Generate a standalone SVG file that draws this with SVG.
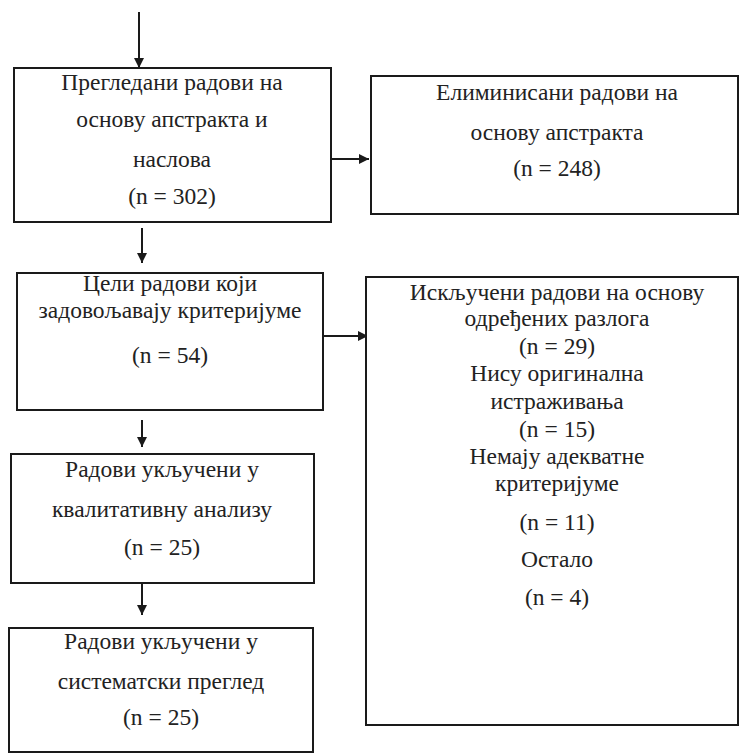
<svg xmlns="http://www.w3.org/2000/svg" width="740" height="755" viewBox="0 0 740 755">
<style>
.box{fill:#fff;stroke:#1a1a1a;stroke-width:2}
.t{font-family:'Liberation Serif','DejaVu Serif',serif;font-size:23.5px;fill:#222;text-anchor:middle}
.c{stroke:#1a1a1a;stroke-width:2;fill:none}
</style>
<defs>
<marker id="ah" viewBox="0 0 10 10" refX="10" refY="5" markerWidth="10" markerHeight="10" markerUnits="userSpaceOnUse" orient="auto">
<path d="M0,0 L10,5 L0,10 Z" fill="#1a1a1a"/>
</marker>
</defs>
<g id="connectors">
<line class="c" x1="139" y1="12" x2="139" y2="68" marker-end="url(#ah)"/>
<line class="c" x1="323" y1="159" x2="369" y2="159" marker-end="url(#ah)"/>
<line class="c" x1="142" y1="228" x2="142" y2="263" marker-end="url(#ah)"/>
<line class="c" x1="323" y1="336" x2="368" y2="336" marker-end="url(#ah)"/>
<line class="c" x1="142" y1="420" x2="142" y2="447" marker-end="url(#ah)"/>
<line class="c" x1="142" y1="583" x2="142" y2="615" marker-end="url(#ah)"/>
</g>
<g id="n1">
<rect class="box" x="14" y="68" width="317" height="154"/>
<text class="t" x="172" y="90">Прегледани радови на</text>
<text class="t" x="172" y="127">основу апстракта и</text>
<text class="t" x="172" y="167">наслова</text>
<text class="t" x="172" y="204">(n = 302)</text>
</g>
<g id="n2">
<rect class="box" x="371" y="76" width="367" height="138"/>
<text class="t" x="557" y="100">Елиминисани радови на</text>
<text class="t" x="557" y="140">основу апстракта</text>
<text class="t" x="557" y="176">(n = 248)</text>
</g>
<g id="n3">
<rect class="box" x="17" y="273" width="306" height="137"/>
<text class="t" x="170" y="291">Цели радови који</text>
<text class="t" x="170" y="318">задовољавају критеријуме</text>
<text class="t" x="170" y="363">(n = 54)</text>
</g>
<g id="n4">
<rect class="box" x="366" y="277" width="372" height="448"/>
<text class="t" x="557" y="300">Искључени радови на основу</text>
<text class="t" x="557" y="326">одређених разлога</text>
<text class="t" x="557" y="354">(n = 29)</text>
<text class="t" x="557" y="381">Нису оригинална</text>
<text class="t" x="557" y="409">истраживања</text>
<text class="t" x="557" y="437">(n = 15)</text>
<text class="t" x="557" y="464">Немају адекватне</text>
<text class="t" x="557" y="491">критеријуме</text>
<text class="t" x="557" y="530">(n = 11)</text>
<text class="t" x="557" y="567">Остало</text>
<text class="t" x="557" y="605">(n = 4)</text>
</g>
<g id="n5">
<rect class="box" x="11" y="454" width="303" height="129"/>
<text class="t" x="162" y="477">Радови укључени у</text>
<text class="t" x="162" y="517">квалитативну анализу</text>
<text class="t" x="162" y="555">(n = 25)</text>
</g>
<g id="n6">
<rect class="box" x="9" y="628" width="304" height="124"/>
<text class="t" x="161" y="649">Радови укључени у</text>
<text class="t" x="161" y="689">систематски преглед</text>
<text class="t" x="161" y="725">(n = 25)</text>
</g>
</svg>
